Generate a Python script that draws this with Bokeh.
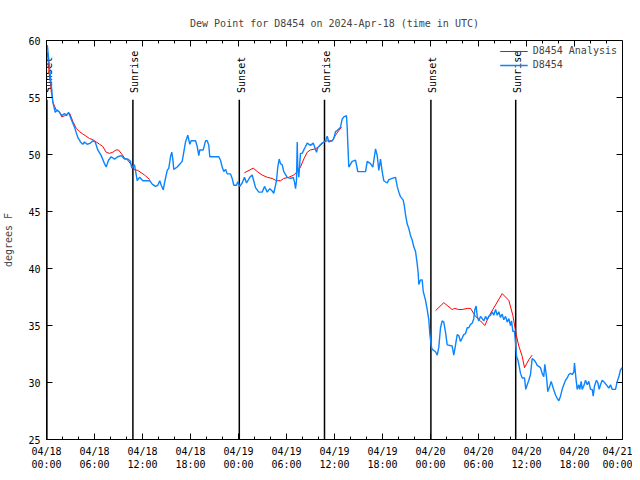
import math
from bokeh.plotting import figure
from bokeh.models import Range1d, FixedTicker, Legend, LegendItem, ColumnDataSource
from bokeh.core.properties import value
from bokeh.embed import file_html
from bokeh.resources import INLINE

NAN = float("nan")

# hours since 2024-04-18 00:00 UTC
obs_hours = [0.1, 0.5, 0.79, 1.09, 1.34, 1.63, 1.91, 2.25, 2.5, 2.75, 3.09, 3.5, 3.91, 4.25, 4.54, 4.75,
             5.09, 5.5, 5.79, 6.09, 6.41, 6.84, 7.25, 7.46, 7.75, 8.09, 8.5, 8.91, 9.34, 9.75, 10.16,
             10.5, 10.66, 11.0, 11.34, 11.63, 12.04, 12.91, 13.21, 13.63, 13.91, 14.16, 14.34, 14.59,
             14.75, 15.09, 15.29, 15.5, 15.66, 15.79, 15.91, 16.34, 16.96, 17.16, 17.38, 17.66, 17.91,
             18.09, 18.63, 18.84, 19.04, 19.16, 19.59, 19.88, 20.09, 20.29, 20.41, 21.54, 21.75, 21.96,
             22.16, 22.38, 22.59, 23.0, 23.21, 23.41, 23.75, 23.91, 24.16, 24.46, 24.75, 25.0, 25.41,
             25.71, 26.13, 26.54, 26.96, 27.25, 27.59, 27.91, 28.21, 28.41, 28.75, 28.91, 29.09, 29.25,
             29.46, 29.66, 30.09, 30.5, 30.84, 31.0, 31.13, 31.25, 31.34, 31.41, 31.54, 31.66, 31.75,
             31.96, 32.16, 32.38, 32.59, 33.0, 33.34, 33.5, 33.75, 33.91, 34.16, 34.46, 34.88, 35.09,
             35.29, 35.71, 35.91, 36.13, 36.34, 36.75, 36.96, 37.16, 37.5, 37.59, 37.66, 37.79, 38.21,
             38.63, 38.91, 39.88, 40.09, 40.5, 40.79, 41.13, 41.34, 41.54, 41.75, 41.96, 42.16, 42.59,
             42.79, 43.21, 43.63, 43.84, 44.04, 44.25, 44.59, 44.75, 44.88, 45.09, 45.29, 45.5, 45.71,
             45.91, 46.13, 46.34, 46.46, 46.54, 46.75, 46.96, 47.09, 47.38, 47.59, 47.79, 47.91, 48.09,
             48.21, 48.63, 48.84, 49.04, 49.25, 49.46, 49.66, 49.88, 50.09, 50.71, 50.91, 51.13, 51.34,
             51.54, 51.75, 51.96, 52.16, 52.38, 52.59, 52.79, 53.0, 53.21, 53.41, 53.54, 53.71, 53.84,
             54.04, 54.25, 54.46, 54.66, 54.88, 55.09, 55.29, 55.5, 55.71, 55.91, 56.13, 56.34, 56.54,
             56.75, 56.96, 57.16, 57.38, 57.59, 57.79, 58.0, 58.13, 58.29, 58.5, 58.63, 58.75, 58.91,
             59.04, 59.25, 59.46, 59.75, 59.91, 60.09, 60.29, 60.5, 60.71, 60.91, 61.13, 61.34, 61.75,
             61.96, 62.16, 62.29, 62.5, 62.66, 62.91, 63.09, 63.34, 63.63, 63.84, 64.04, 64.25, 64.46,
             64.66, 64.88, 65.09, 65.29, 65.5, 65.71, 65.91, 66.0, 66.16, 66.34, 66.54, 66.66, 66.84,
             66.96, 67.16, 67.38, 67.59, 67.79, 68.0, 68.21, 68.34, 68.5, 68.75, 68.91, 69.09, 69.25,
             69.46, 69.75, 70.09, 70.29, 70.5, 70.71, 71.13, 71.34, 71.54, 71.75, 71.96]
obs_dewpt = [59.6, 56.8, 54.6, 53.7, 53.9, 53.7, 53.4, 53.6, 53.4, 53.7, 53.1, 52.4, 51.5, 51.1, 50.9, 51.1,
             50.9, 51.0, 51.2, 51.1, 50.4, 49.9, 49.2, 48.9, 49.5, 49.8, 49.6, 49.8, 49.9, 49.6, 49.6,
             49.4, 48.8, 49.1, 47.7, 48.0, 47.7, 47.7, 47.4, 47.2, 47.3, 47.7, 47.3, 46.9,
             47.5, 48.6, 48.8, 49.8, 50.2, 49.6, 48.7, 48.9, 49.4, 50.2, 51.1, 51.7, 50.9,
             51.2, 51.2, 50.7, 49.9, 50.4, 50.4, 51.2, 51.2, 50.8, 49.8, 49.8, 49.5, 48.9,
             48.5, 48.7, 48.3, 48.3, 47.9, 47.3, 47.3, 47.6, 47.2, 47.5, 48.0, 47.5, 48.0,
             48.2, 47.1, 46.7, 46.7, 47.2, 46.7, 47.0, 46.8, 46.6, 47.7, 48.9, 49.6, 49.2,
             49.1, 48.5, 48.0, 47.9, 48.0, 47.6, 47.0, 47.7, 51.1, 48.9, 48.0, 49.2, 50.1,
             50.1, 50.4, 50.7, 51.0, 50.8, 51.0, 50.7, 50.2, 50.6, 50.8, 51.0, 51.2, 51.6,
             51.1, 51.2, 51.4, 52.0, 52.1, 52.4, 53.1, 53.3, 53.4, 52.3, 51.0, 48.9, 49.4,
             49.5, 48.5, 48.5, 49.4, 49.2, 48.9, 50.5, 49.9, 48.6, 49.6, 48.5, 47.7, 47.5,
             47.8, 47.9, 48.0, 47.2, 46.7, 46.3, 46.0, 45.4, 44.7, 43.9, 43.5, 42.9, 42.5,
             41.9, 41.5, 40.4, 39.6, 38.6, 39.0, 39.0, 38.0, 37.2, 36.4, 35.5, 34.3, 33.2,
             32.9, 32.7, 32.4, 33.1, 34.8, 35.4, 35.3, 34.4, 33.3, 33.2, 32.4, 33.3, 34.2,
             34.1, 33.6, 33.9, 34.2, 34.3, 34.8, 34.8, 35.1, 35.2, 35.6, 36.4, 36.7, 35.8,
             35.4, 35.8, 35.6, 35.4, 35.8, 35.5, 35.8, 35.9, 36.2, 35.9, 36.4, 35.9, 36.2,
             35.7, 36.0, 35.5, 35.8, 35.3, 35.6, 35.0, 35.4, 34.5, 34.5, 33.5, 32.3, 32.0,
             31.6, 30.8, 30.4, 30.4, 29.4, 29.8, 30.2, 30.7, 32.1, 32.0, 31.8, 31.5, 31.3,
             30.8, 30.5, 31.6, 30.5, 29.2, 29.7, 30.1, 29.5, 28.9, 28.6, 28.4, 28.8, 29.4,
             29.8, 30.2, 30.4, 30.7, 30.8, 30.7, 30.9, 31.7, 30.5, 29.4, 29.8, 29.4, 30.1,
             29.4, 29.7, 30.2, 29.8, 30.1, 29.4, 29.4, 28.8, 29.7, 30.2, 30.0, 29.4, 29.8,
             30.2, 30.0, 29.7, 29.5, 29.8, 29.4, 29.4, 30.1, 30.5, 31.1, 31.3]

# analysis series, NaN marks the gaps between its three pieces
ana_hours = [0.1, 0.38, 0.79, 1.21, 1.63, 1.91, 2.25, 2.66, 2.91, 3.29, 3.71, 4.13, 4.54, 4.96, 5.38, 5.79,
             6.21, 6.63, 7.04, 7.46, 7.88, 8.29, 8.71, 9.0, 9.34, 9.75, 10.16, 10.59, 10.91, 11.41,
             11.84, 12.25, 12.91, NAN,
             24.75, 25.84, 26.34, 26.96, 27.59, 28.21, 28.75, 29.25, 29.66, 30.29, 30.91, 31.34, 31.75,
             32.16, 32.59, 33.0, 33.63, 34.25, 34.66, 35.09, 35.71, 36.13, 36.54, 36.88, NAN,
             48.63, 49.66, 50.71, 51.04, 51.54, 51.96, 52.59, 53.0, 53.63, 54.25, 54.79, 55.29, 56.13,
             56.96, 57.79, 58.29, 58.71, 59.04, 59.46, 59.75, 60.29, 60.71]
ana_dewpt = [59.0, 56.8, 54.6, 53.9, 53.7, 53.3, 53.4, 53.6, 53.6, 52.9, 52.3, 52.0, 51.8, 51.6, 51.4, 51.3,
             51.1, 50.9, 50.7, 50.2, 50.1, 50.2, 50.4, 50.4, 50.1, 49.7, 49.5, 49.1, 48.7, 48.6,
             48.4, 48.2, 47.8, NAN,
             48.4, 48.8, 48.5, 48.2, 48.0, 47.9, 47.7, 47.7, 47.9, 48.0, 48.2, 48.5, 48.9,
             49.6, 50.2, 50.4, 50.5, 50.8, 51.1, 51.2, 51.2, 51.7, 52.1, 52.4, NAN,
             36.3, 37.0, 36.4, 36.5, 36.4, 36.4, 36.5, 36.5, 35.8, 35.4, 35.0, 35.8, 36.8,
             37.8, 37.2, 35.9, 34.2, 33.2, 32.3, 31.3, 32.0, 32.4]

sun_hours = [0.05, 10.8, 24.1, 34.75, 48.05, 58.65]
sun_labels = ["Sunset", "Sunrise", "Sunset", "Sunrise", "Sunset", "Sunrise"]
sun_line_top = 54.8
sun_text_base = 55.4

x_min, x_max = 0, 72
y_min, y_max = 25, 60
x_ticks = list(range(0, 73, 6))
x_tick_labels = ["04/18\n00:00", "04/18\n06:00", "04/18\n12:00", "04/18\n18:00",
                 "04/19\n00:00", "04/19\n06:00", "04/19\n12:00", "04/19\n18:00",
                 "04/20\n00:00", "04/20\n06:00", "04/20\n12:00", "04/20\n18:00",
                 "04/21\n00:00"]
x_minor = [h for h in range(0, 73, 2) if h % 6 != 0]
y_ticks = [25, 30, 35, 40, 45, 50, 55, 60]

FONT = "DejaVu Sans Mono"
FS = "10px"

p = figure(width=632, height=472, output_backend="svg", toolbar_location=None,
           x_range=Range1d(x_min, x_max), y_range=Range1d(y_min, y_max),
           min_border_left=46, min_border_right=10, min_border_top=40, min_border_bottom=32,
           title="Dew Point for D8454 on 2024-Apr-18 (time in UTC)")
p.title.align = "center"
p.title.text_font = FONT
p.title.text_font_size = FS
p.title.text_font_style = "normal"
p.title.standoff = 23
p.xgrid.visible = False
p.ygrid.visible = False
p.outline_line_color = "black"
p.outline_line_width = 1
p.background_fill_color = "white"
p.border_fill_color = "white"

def style_axis(ax):
    ax.axis_line_color = "black"
    ax.major_tick_line_color = "black"
    ax.minor_tick_line_color = "black"
    ax.major_tick_in = 6
    ax.major_tick_out = 0
    ax.minor_tick_in = 3
    ax.minor_tick_out = 0
    ax.major_label_text_font = FONT
    ax.major_label_text_font_size = FS
    ax.major_label_text_color = "black"
    ax.axis_label_text_font = FONT
    ax.axis_label_text_font_size = FS
    ax.axis_label_text_font_style = "normal"

xb = p.xaxis[0]
xb.ticker = FixedTicker(ticks=x_ticks, minor_ticks=x_minor)
xb.major_label_overrides = {t: lab for t, lab in zip(x_ticks, x_tick_labels)}
style_axis(xb)
xb.major_label_standoff = 6

yl = p.yaxis[0]
yl.ticker = FixedTicker(ticks=y_ticks, minor_ticks=[])
yl.axis_label = "degrees F"
style_axis(yl)
yl.major_label_standoff = 6
yl.axis_label_standoff = 11

# mirrored tick marks on the top and right edges of the frame
p.ray(x=x_ticks, y=[y_max] * len(x_ticks), length=6, length_units="screen",
      angle=-math.pi / 2, line_color="black", line_width=1)
p.ray(x=x_minor, y=[y_max] * len(x_minor), length=3, length_units="screen",
      angle=-math.pi / 2, line_color="black", line_width=1)
p.ray(x=[x_max] * len(y_ticks), y=y_ticks, length=6, length_units="screen",
      angle=math.pi, line_color="black", line_width=1)

sun_src = ColumnDataSource(dict(x=sun_hours, lab=sun_labels,
                                y0=[y_min] * len(sun_hours),
                                y1=[sun_line_top] * len(sun_hours),
                                yt=[sun_text_base] * len(sun_hours)))
p.segment(x0="x", y0="y0", x1="x", y1="y1", source=sun_src, line_color="black", line_width=1.5)
p.text(x="x", y="yt", text="lab", source=sun_src, angle=math.pi / 2, text_align="left",
       text_baseline="middle", text_font=value(FONT), text_font_size=FS,
       text_color="black", x_offset=2)

r_ana = p.line(ana_hours, ana_dewpt, line_color="#ff0000", line_width=1)
r_obs = p.line(obs_hours, obs_dewpt, line_color="#0a84ff", line_width=1.4)

legend = Legend(items=[LegendItem(label="D8454 Analysis", renderers=[r_ana]),
                       LegendItem(label="D8454", renderers=[r_obs])],
                location="top_right")
legend.background_fill_alpha = 0
legend.border_line_alpha = 0
legend.label_text_font = FONT
legend.label_text_font_size = FS
legend.glyph_width = 28
legend.glyph_height = 10
legend.label_height = 10
legend.spacing = 3
legend.padding = 2
legend.margin = 3
p.add_layout(legend)

open("out.html", "w").write(file_html(p, INLINE))
